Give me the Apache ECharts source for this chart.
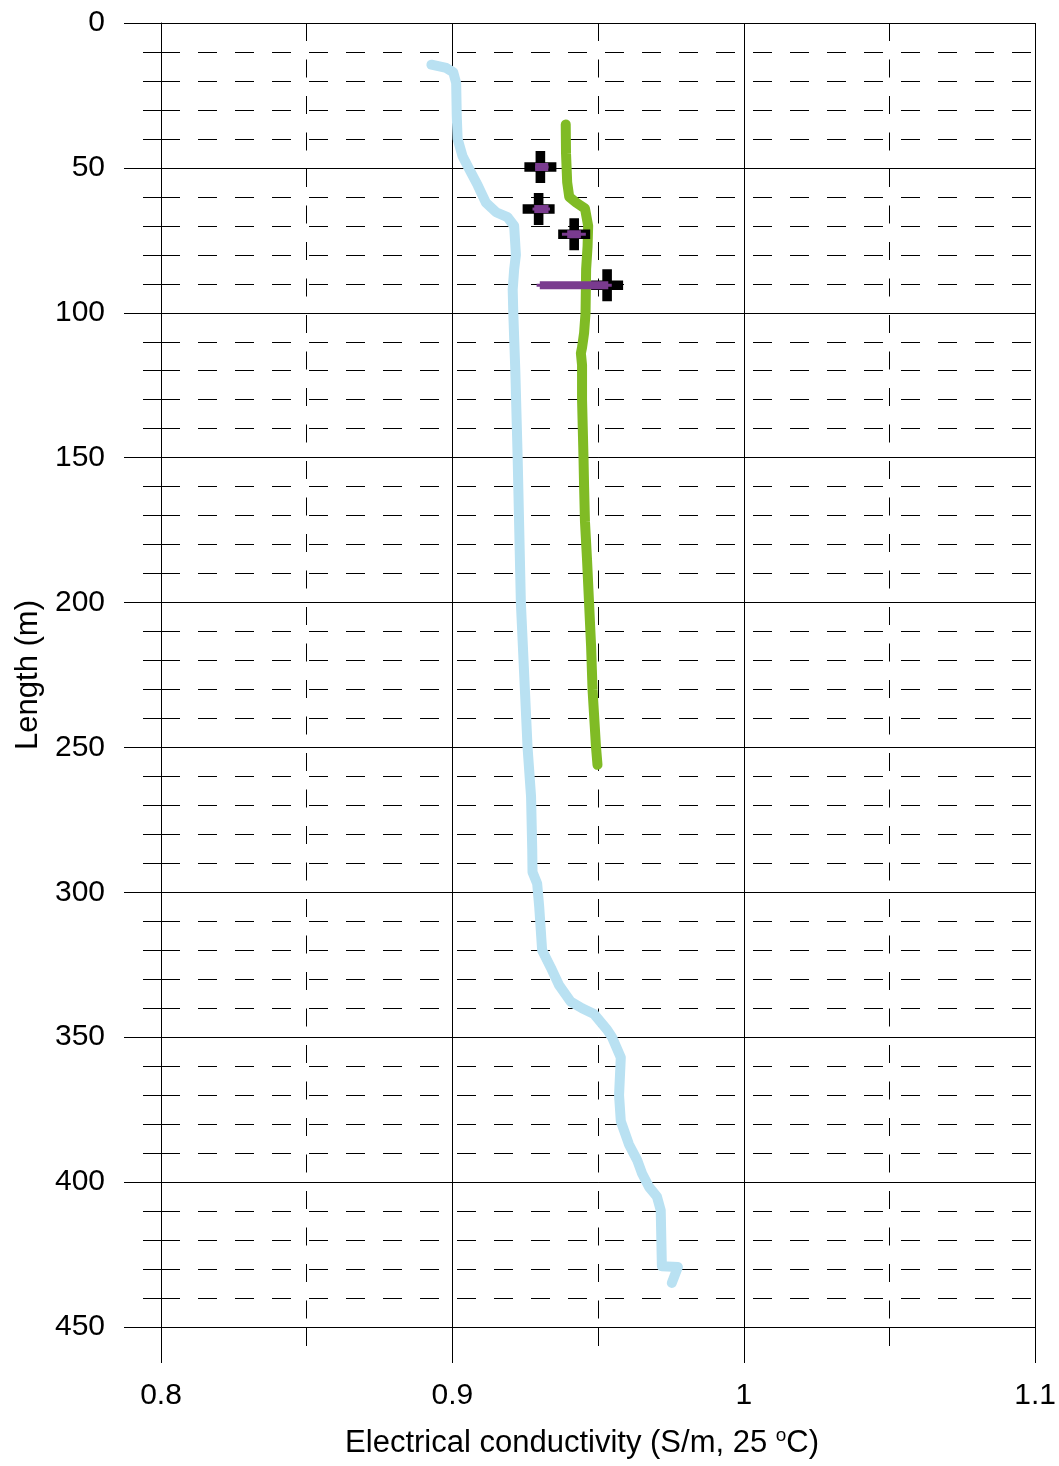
<!DOCTYPE html>
<html>
<head>
<meta charset="utf-8">
<script src="https://cdn.jsdelivr.net/npm/echarts@6/dist/echarts.min.js"></script>
<style>
html,body{margin:0;padding:0;background:#fff;}
#chart{width:1059px;height:1466px;}
</style>
</head>
<body>
<div id="chart"></div>
<script>
// ---- tick labels ----
const xTickLabels = ['0.8', '0.9', '1', '1.1'];
const yTickLabels = ['0', '50', '100', '150', '200', '250', '300', '350', '400', '450'];

// ---- light blue profile (depth m, EC S/m) ----
const blueDepth = [14.4, 15.5, 17, 20.7, 32, 40, 46, 50.5, 56, 62, 65.3, 67, 70, 80, 85, 92, 100, 120, 150, 200, 250, 267, 285, 293, 297, 305, 320, 326, 332, 337.7, 340, 342, 347.4, 350, 357, 370, 379, 387, 392.6, 397, 401.7, 405, 409.7, 429, 429.3, 434.8];
const blueEC = [0.8928, 0.8979, 0.9003, 0.9013, 0.9015, 0.9018, 0.9035, 0.9058, 0.9087, 0.9115, 0.9150, 0.9189, 0.9212, 0.9218, 0.9212, 0.9207, 0.9209, 0.9216, 0.9224, 0.9235, 0.9258, 0.9270, 0.9274, 0.9275, 0.9291, 0.9298, 0.9308, 0.9338, 0.9366, 0.9406, 0.9445, 0.9486, 0.9531, 0.9548, 0.9578, 0.9572, 0.9578, 0.9606, 0.9635, 0.9651, 0.9675, 0.9702, 0.9715, 0.9719, 0.9774, 0.9753];

// ---- green profile ----
const greenDepth = [35, 45, 55, 60, 62, 64, 70, 77, 85, 100, 107, 112, 114, 118, 130, 150, 160, 172, 185, 200, 215, 230, 250, 256];
const greenEC = [0.9389, 0.9390, 0.9394, 0.9401, 0.9425, 0.9455, 0.9466, 0.9464, 0.9459, 0.9457, 0.9452, 0.9445, 0.9441, 0.9445, 0.9445, 0.9450, 0.9452, 0.9455, 0.9462, 0.9469, 0.9476, 0.9481, 0.9493, 0.9498];

// ---- samples (black crosses with purple ranges) ----
const sampleDepth = [49.7, 64.2, 72.9, 90.5];
const sampleEC = [0.9302, 0.9296, 0.9418, 0.9531];
const sampleCoreLow = [0.9284, 0.9281, 0.9394, 0.9300];
const sampleCoreHigh = [0.9329, 0.9330, 0.9441, 0.9535];
const sampleRangeLow = [0.9284, 0.9275, 0.9376, 0.9289];
const sampleRangeHigh = [0.9330, 0.9335, 0.9458, 0.9547];

const FONT = "'Liberation Sans', Arial, sans-serif";
const chart = echarts.init(document.getElementById('chart'), null, {renderer: 'canvas'});

const bluePts = blueDepth.map((d, i) => [blueEC[i], d]);
const greenPts = greenDepth.map((d, i) => [greenEC[i], d]);
const samplePts = sampleDepth.map((d, i) => [sampleEC[i], d]);
const rangePts = sampleDepth.map((d, i) => [sampleRangeLow[i], sampleRangeHigh[i], sampleCoreLow[i], sampleCoreHigh[i], d]);

const plusPath = 'path://M10.5,0h9v10.5h10.5v9h-10.5v10.5h-9v-10.5h-10.5v-9h10.5z';

function lookupX(v) {
  const i = Math.round((v - 0.8) / 0.1);
  return xTickLabels[i] !== undefined ? xTickLabels[i] : '';
}
function lookupY(v) {
  const i = Math.round(v / 50);
  return yTickLabels[i] !== undefined ? yTickLabels[i] : '';
}

chart.setOption({
  animation: false,
  backgroundColor: '#fff',
  grid: {left: 161, top: 23, right: 22, bottom: 132, containLabel: false},
  xAxis: {
    type: 'value', min: 0.8, max: 1.1, interval: 0.1, position: 'bottom',
    name: '{a|Electrical conductivity (S/m, 25 }{s|o}{a|C)}',
    nameLocation: 'middle', nameGap: 99,
    nameTextStyle: {
      color: '#000', fontFamily: FONT, fontSize: 31, padding: [0, 32, 0, 0],
      rich: {
        a: {fontSize: 31, fontFamily: FONT, color: '#000', lineHeight: 34},
        s: {fontSize: 19, fontFamily: FONT, color: '#000', lineHeight: 34, verticalAlign: 'top', padding: [0, 0, 16, 0]}
      }
    },
    axisLine: {show: true, onZero: false, lineStyle: {color: '#000', width: 1}},
    axisTick: {show: true, inside: false, length: 36, lineStyle: {color: '#000', width: 1}},
    minorTick: {show: true, splitNumber: 2, length: 19, lineStyle: {color: '#000', width: 1}},
    axisLabel: {color: '#000', fontFamily: FONT, fontSize: 30, margin: 54, formatter: lookupX},
    splitLine: {show: true, lineStyle: {color: '#000', width: 1}},
    minorSplitLine: {show: true, lineStyle: {color: '#000', width: 1, type: [18, 18.5]}}
  },
  yAxis: {
    type: 'value', min: 0, max: 450, interval: 50, inverse: true,
    name: 'Length (m)', nameLocation: 'middle', nameGap: 117,
    nameTextStyle: {color: '#000', fontFamily: FONT, fontSize: 31},
    axisLine: {show: true, onZero: false, lineStyle: {color: '#000', width: 1}},
    axisTick: {show: true, inside: false, length: 37, lineStyle: {color: '#000', width: 1}},
    minorTick: {show: true, splitNumber: 5, length: 18, lineStyle: {color: '#000', width: 1}},
    axisLabel: {color: '#000', fontFamily: FONT, fontSize: 30, margin: 56, formatter: lookupY},
    splitLine: {show: true, lineStyle: {color: '#000', width: 1}},
    minorSplitLine: {show: true, lineStyle: {color: '#000', width: 1, type: [19, 18]}}
  },
  series: [
    {
      type: 'line', data: bluePts, showSymbol: false, symbol: 'none', z: 3,
      lineStyle: {color: '#b9e1f2', width: 10, join: 'round', cap: 'round'}
    },
    {
      type: 'line', data: greenPts, showSymbol: false, symbol: 'none', z: 4,
      lineStyle: {color: '#80bb25', width: 10, join: 'round', cap: 'round'}
    },
    {
      type: 'scatter', data: samplePts, symbol: plusPath, symbolSize: 32, z: 5,
      itemStyle: {color: '#000', opacity: 1}
    },
    {
      type: 'custom', z: 6, data: rangePts,
      encode: {x: [0, 1, 2, 3], y: 4},
      renderItem: function (params, api) {
        const d = api.value(4);
        const a = api.coord([api.value(0), d]);
        const b = api.coord([api.value(1), d]);
        const c = api.coord([api.value(2), d]);
        const e = api.coord([api.value(3), d]);
        return {
          type: 'group',
          children: [
            {type: 'rect', shape: {x: a[0], y: a[1] - 1.5, width: b[0] - a[0], height: 3}, style: {fill: '#7a3b8f'}},
            {type: 'rect', shape: {x: c[0], y: c[1] - 4, width: e[0] - c[0], height: 8}, style: {fill: '#7a3b8f'}}
          ]
        };
      }
    }
  ]
});
</script>
</body>
</html>
